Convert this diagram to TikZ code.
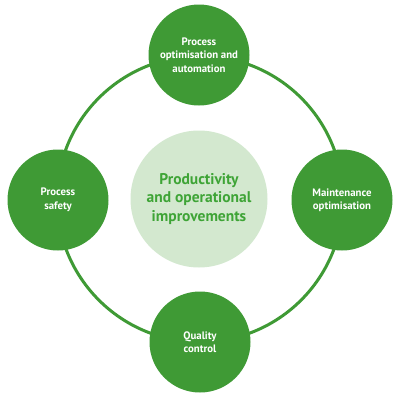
\documentclass[tikz,border=0pt]{standalone}
\usepackage{fontspec}
\setmainfont{PT Sans}
\definecolor{dgreen}{HTML}{3F9A35}
\definecolor{lgreen}{HTML}{D3E8CF}
\definecolor{tgreen}{HTML}{3EA436}
\tikzset{
  outer/.style={circle, fill=dgreen, minimum size=101pt, inner sep=0pt, text=white, align=center, font=\bfseries\fontsize{10.8}{13.5}\selectfont},
  ring/.style={draw=dgreen, line width=3pt},
}
\begin{document}
\begin{tikzpicture}[x=1pt,y=-1pt]
\useasboundingbox (0,0) rectangle (400,400);
\coordinate (c) at (200,199);
\draw[ring] (c) circle (143);
\node[circle, fill=lgreen, minimum size=137pt, inner sep=0pt, text=tgreen, align=center, font=\bfseries\fontsize{15.5}{18.5}\selectfont] (mid) at (199,199) {Productivity\\and operational\\improvements};
\node[outer] (top) at (199,55) {Process\\optimisation and\\automation};
\node[outer] (left) at (58,200) {Process\\safety};
\node[outer] (right) at (342,200) {Maintenance\\optimisation};
\node[outer] (bottom) at (200,342) {Quality\\control};
\end{tikzpicture}
\end{document}
